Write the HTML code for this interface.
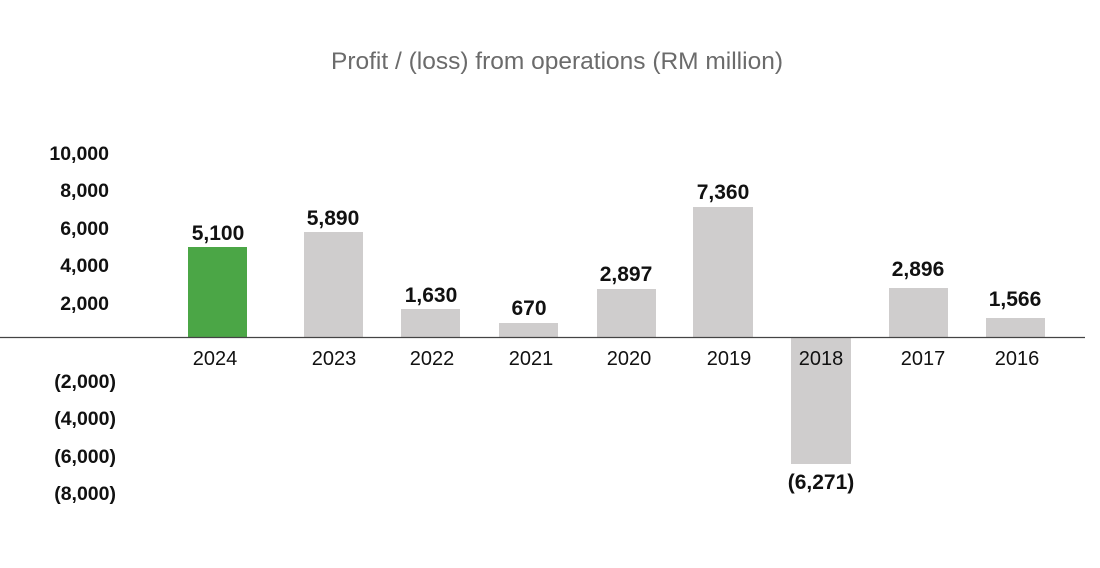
<!DOCTYPE html>
<html><head><meta charset="utf-8"><style>
body{margin:0;background:#fff;}
svg text{font-family:"Liberation Sans",sans-serif;}
</style></head><body>
<svg width="1100" height="563" xmlns="http://www.w3.org/2000/svg">
<rect width="1100" height="563" fill="#fff"/>
<text x="557" y="69" text-anchor="middle" font-size="24.5" fill="#6b6b6b">Profit / (loss) from operations (RM million)</text>
<g font-size="19.5" font-weight="bold" fill="#111" text-anchor="end">
<text x="109" y="160">10,000</text>
<text x="109" y="197">8,000</text>
<text x="109" y="235">6,000</text>
<text x="109" y="272">4,000</text>
<text x="109" y="310">2,000</text>
<text x="116" y="388">(2,000)</text>
<text x="116" y="425">(4,000)</text>
<text x="116" y="463">(6,000)</text>
<text x="116" y="500">(8,000)</text>
</g>
<rect x="188" y="247" width="59" height="90" fill="#4ba646"/>
<g fill="#cfcdcd">
<rect x="304" y="232" width="59" height="105"/>
<rect x="401" y="309" width="59" height="28"/>
<rect x="499" y="323" width="59" height="14"/>
<rect x="597" y="289" width="59" height="48"/>
<rect x="693" y="207" width="60" height="130"/>
<rect x="791" y="337" width="60" height="127"/>
<rect x="889" y="288" width="59" height="49"/>
<rect x="986" y="318" width="59" height="19"/>
</g>
<line x1="0" y1="337.5" x2="1085" y2="337.5" stroke="#444" stroke-width="1.3"/>
<g font-size="21" font-weight="bold" fill="#111" text-anchor="middle">
<text x="218" y="240">5,100</text>
<text x="333" y="225">5,890</text>
<text x="431" y="302">1,630</text>
<text x="529" y="315">670</text>
<text x="626" y="281">2,897</text>
<text x="723" y="199">7,360</text>
<text x="821" y="489">(6,271)</text>
<text x="918" y="276">2,896</text>
<text x="1015" y="306">1,566</text>
</g>
<g font-size="20" fill="#111" text-anchor="middle">
<text x="215" y="365">2024</text>
<text x="334" y="365">2023</text>
<text x="432" y="365">2022</text>
<text x="531" y="365">2021</text>
<text x="629" y="365">2020</text>
<text x="729" y="365">2019</text>
<text x="821" y="365">2018</text>
<text x="923" y="365">2017</text>
<text x="1017" y="365">2016</text>
</g>
</svg>
</body></html>
